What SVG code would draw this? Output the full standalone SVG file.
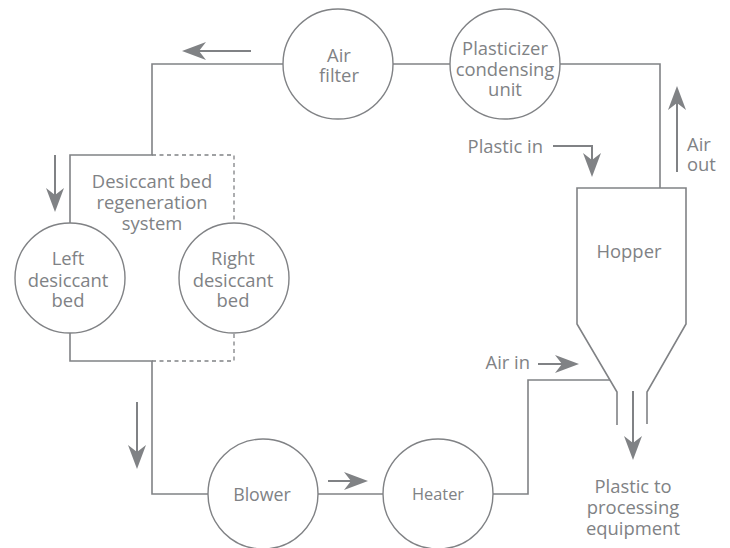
<svg xmlns="http://www.w3.org/2000/svg" width="730" height="548" viewBox="0 0 730 548">
<style>
.bg{fill:#ffffff}
.node{fill:#ffffff;stroke:#808285;stroke-width:1.4}
.pipe{fill:none;stroke:#808285;stroke-width:1.6}
.dash{fill:none;stroke:#808285;stroke-width:1.3;stroke-dasharray:4 3.5}
.arrow{fill:none;stroke:#808285;stroke-width:2;marker-end:url(#ah)}
text{font-family:"Open Sans","Noto Sans","DejaVu Sans",sans-serif;font-size:18.4px;fill:#808285}
.c{text-anchor:middle}
.e{text-anchor:end}
</style>
<defs>
<marker id="ah" markerUnits="userSpaceOnUse" markerWidth="26" markerHeight="20" refX="17" refY="10" orient="auto" overflow="visible">
<path d="M0,1 L24,10 L0,19 L7,10 Z" fill="#808285"/>
</marker>
</defs>
<rect class="bg" x="0" y="0" width="730" height="548"/>
<g id="connectors">
<path class="pipe" d="M393,64 H450"/>
<path class="pipe" d="M283,64 H152 V155 H70 V223"/>
<path class="dash" d="M152,155 H234 V223"/>
<path class="pipe" d="M70,333 V361 H152 V494 H208"/>
<path class="dash" d="M152,361 H234 V333"/>
<path class="pipe" d="M318,494 H383"/>
<path class="pipe" d="M493,494 H528 V380 H610"/>
<path class="pipe" d="M560,64 H660 V188"/>
<path class="arrow" d="M251,51 H189"/>
<path class="arrow" d="M55,155 V205"/>
<path class="arrow" d="M137,402 V462"/>
<path class="arrow" d="M328,481 H361"/>
<path class="arrow" d="M538,364 H572"/>
<path class="arrow" d="M553,146 H592 V170"/>
<path class="arrow" d="M677,172 V93"/>
<path class="arrow" d="M633,391 V453"/>
</g>
<g id="air-filter">
<circle class="node" cx="338" cy="64" r="55"/>
<text class="c" x="339" y="62">Air<tspan x="339" dy="20">filter</tspan></text>
</g>
<g id="plasticizer">
<circle class="node" cx="505" cy="64" r="55"/>
<text class="c" x="505" y="55">Plasticizer<tspan x="505" dy="21">condensing</tspan><tspan x="505" dy="20">unit</tspan></text>
</g>
<g id="regeneration">
<text class="c" x="152" y="188">Desiccant bed<tspan x="152" dy="21">regeneration</tspan><tspan x="152" dy="21">system</tspan></text>
</g>
<g id="left-bed">
<circle class="node" cx="70" cy="278" r="55"/>
<text class="c" x="68" y="265">Left<tspan x="68" dy="22">desiccant</tspan><tspan x="68" dy="20">bed</tspan></text>
</g>
<g id="right-bed">
<circle class="node" cx="234" cy="278" r="55"/>
<text class="c" x="233" y="265">Right<tspan x="233" dy="22">desiccant</tspan><tspan x="233" dy="20">bed</tspan></text>
</g>
<g id="blower">
<circle class="node" cx="263" cy="494" r="55"/>
<text class="c" x="262" y="501" style="font-size:17.8px">Blower</text>
</g>
<g id="heater">
<circle class="node" cx="438" cy="494" r="55"/>
<text class="c" x="438" y="500" style="font-size:16.4px">Heater</text>
</g>
<g id="hopper">
<path class="pipe" d="M617,425 V392 L577,324 V188 H686 V324 L647,392 V424"/>
<text class="c" x="629" y="258">Hopper</text>
</g>
<g id="labels">
<text class="e" x="543" y="153">Plastic in</text>
<text x="687" y="151">Air<tspan x="687" dy="20">out</tspan></text>
<text class="e" x="530" y="369">Air in</text>
<text class="c" x="633" y="493">Plastic to<tspan x="633" dy="21">processing</tspan><tspan x="633" dy="21">equipment</tspan></text>
</g>
</svg>
